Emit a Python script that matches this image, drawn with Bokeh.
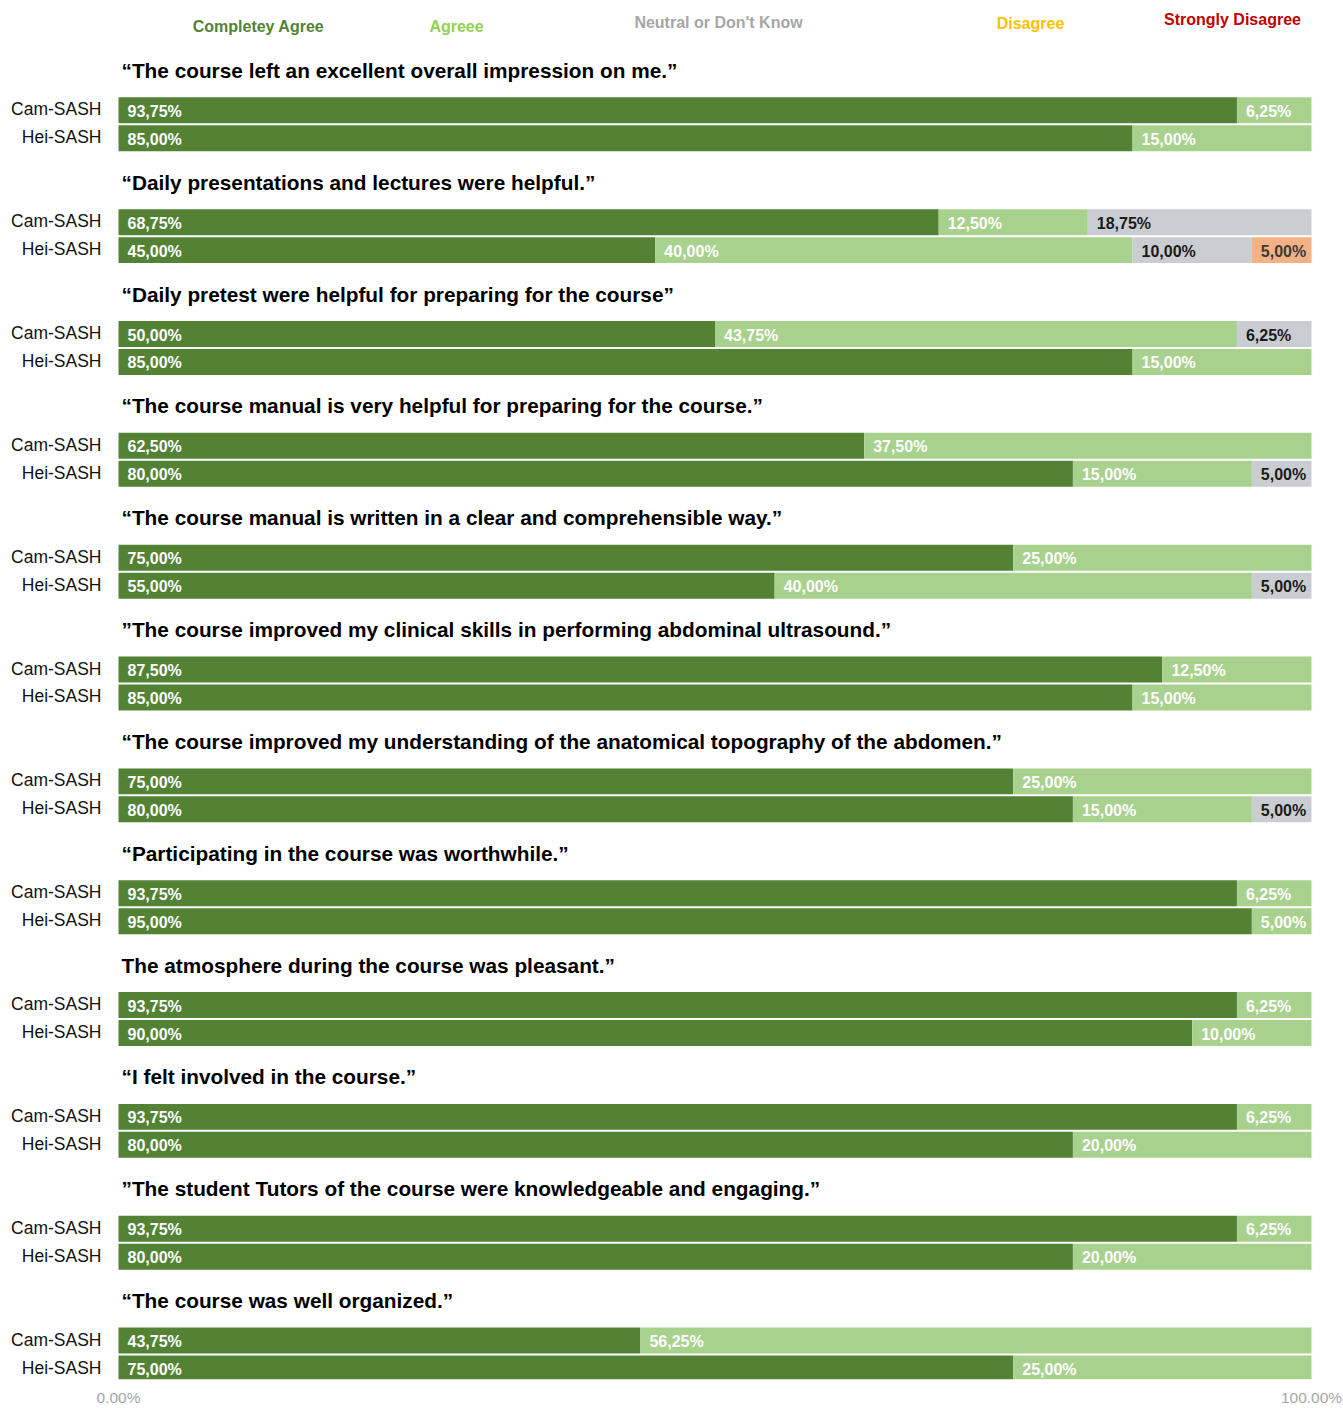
from bokeh.plotting import figure
from bokeh.models import ColumnDataSource, Range1d, FixedTicker
from bokeh.core.properties import value
from bokeh.embed import file_html
from bokeh.resources import INLINE

# ---------------- data ----------------
categories = ["Completey Agree", "Agreee", "Neutral or Don't Know", "Disagree", "Strongly Disagree"]
groups = ["Cam-SASH", "Hei-SASH"]
questions = [
    "\u201cThe course left an excellent overall impression on me.\u201d",
    "\u201cDaily presentations and lectures were helpful.\u201d",
    "\u201cDaily pretest were helpful for preparing for the course\u201d",
    "\u201cThe course manual is very helpful for preparing for the course.\u201d",
    "\u201cThe course manual is written in a clear and comprehensible way.\u201d",
    "\u201dThe course improved my clinical skills in performing abdominal ultrasound.\u201d",
    "\u201cThe course improved my understanding of the anatomical topography of the abdomen.\u201d",
    "\u201cParticipating in the course was worthwhile.\u201d",
    "The atmosphere during the course was pleasant.\u201d",
    "\u201cI felt involved in the course.\u201d",
    "\u201dThe student Tutors of the course were knowledgeable and engaging.\u201d",
    "\u201cThe course was well organized.\u201d",
]
cam_completely = [93.75, 68.75, 50.00, 62.50, 75.00, 87.50, 75.00, 93.75, 93.75, 93.75, 93.75, 43.75]
cam_agree      = [6.25, 12.50, 43.75, 37.50, 25.00, 12.50, 25.00, 6.25, 6.25, 6.25, 6.25, 56.25]
cam_neutral    = [0, 18.75, 6.25, 0, 0, 0, 0, 0, 0, 0, 0, 0]
cam_disagree   = [0, 0, 0, 0, 0, 0, 0, 0, 0, 0, 0, 0]
cam_strongly   = [0, 0, 0, 0, 0, 0, 0, 0, 0, 0, 0, 0]
hei_completely = [85.00, 45.00, 85.00, 80.00, 55.00, 85.00, 80.00, 95.00, 90.00, 80.00, 80.00, 75.00]
hei_agree      = [15.00, 40.00, 15.00, 15.00, 40.00, 15.00, 15.00, 5.00, 10.00, 20.00, 20.00, 25.00]
hei_neutral    = [0, 10.00, 0, 5.00, 5.00, 0, 5.00, 0, 0, 0, 0, 0]
hei_disagree   = [0, 5.00, 0, 0, 0, 0, 0, 0, 0, 0, 0, 0]
hei_strongly   = [0, 0, 0, 0, 0, 0, 0, 0, 0, 0, 0, 0]
axis_ticks = [0, 100]
axis_tick_labels = ["0.00%", "100.00%"]

# ---------------- style / layout ----------------
bar_colors = ["#548235", "#A9D18E", "#C9CDD2", "#F4B183", "#C00000"]
label_colors = ["#FFFFFF", "#FFFFFF", "#1A1A1A", "#3A3A3A", "#FFFFFF"]
legend_colors = ["#548235", "#92D050", "#A6A6A6", "#FFC000", "#C00000"]
legend_px = [258, 456, 718, 1030, 1232]
legend_py = [26, 26, 22, 23, 19]
FONT = "Liberation Sans"

W, H = 1343, 1408
LEFT_PX, RIGHT_PX = 118, 1311
scale = (RIGHT_PX - LEFT_PX) / 100.0
FRAME_H = 1381

block_pitch = 112
title_y0, cam_y0, hei_y0 = 70, 110, 138

p = figure(width=W, height=H, output_backend="svg", toolbar_location=None,
           x_range=Range1d(-LEFT_PX / scale, (W - LEFT_PX) / scale),
           y_range=Range1d(FRAME_H, 0),
           y_axis_location=None, x_axis_location="below",
           min_border_left=0, min_border_right=0, min_border_top=0, min_border_bottom=0)
p.outline_line_color = None
p.grid.visible = False
p.background_fill_color = "white"
p.border_fill_color = "white"

ax = p.xaxis[0]
ax.ticker = FixedTicker(ticks=axis_ticks)
ax.major_label_overrides = {t: l for t, l in zip(axis_ticks, axis_tick_labels)}
ax.axis_line_color = None
ax.major_tick_line_color = None
ax.minor_tick_line_color = None
ax.major_tick_out = 0
ax.major_tick_in = 0
ax.major_label_standoff = 9
ax.major_label_text_font = FONT
ax.major_label_text_font_size = "15.5px"
ax.major_label_text_color = "#A6A6A6"

series = {
    "Cam-SASH": [cam_completely, cam_agree, cam_neutral, cam_disagree, cam_strongly],
    "Hei-SASH": [hei_completely, hei_agree, hei_neutral, hei_disagree, hei_strongly],
}
row_y0 = {"Cam-SASH": cam_y0, "Hei-SASH": hei_y0}

bars = dict(left=[], right=[], y=[], color=[])
labels = dict(x=[], y=[], text=[], color=[])
group_lab = dict(x=[], y=[], text=[])
title_lab = dict(x=[], y=[], text=[])

for i, q in enumerate(questions):
    title_lab["x"].append(0)
    title_lab["y"].append(title_y0 + block_pitch * i)
    title_lab["text"].append(q)
    for g in groups:
        y = row_y0[g] + block_pitch * i
        group_lab["x"].append(0)
        group_lab["y"].append(y)
        group_lab["text"].append(g)
        left = 0.0
        for k, vals in enumerate(series[g]):
            v = vals[i]
            if v > 0:
                bars["left"].append(left)
                bars["right"].append(left + v)
                bars["y"].append(y)
                bars["color"].append(bar_colors[k])
                labels["x"].append(left)
                labels["y"].append(y)
                labels["text"].append(f"{v:.2f}%".replace(".", ","))
                labels["color"].append(label_colors[k])
            left += v

p.hbar(y="y", left="left", right="right", height=26, color="color",
       line_color=None, source=ColumnDataSource(bars))

p.text(x="x", y="y", text="text", text_color="color", source=ColumnDataSource(labels),
       text_font=value(FONT), text_font_style="bold", text_font_size="16px",
       text_align="left", text_baseline="middle", x_offset=9, y_offset=1)

p.text(x="x", y="y", text="text", source=ColumnDataSource(group_lab),
       text_font=value(FONT), text_font_size="17.5px", text_color="#111111",
       text_align="right", text_baseline="middle", x_offset=-17, y_offset=-1)

p.text(x="x", y="y", text="text", source=ColumnDataSource(title_lab),
       text_font=value(FONT), text_font_style="bold", text_font_size="20.8px", text_color="#000000",
       text_align="left", text_baseline="middle", x_offset=3)

leg = dict(x=[(px - LEFT_PX) / scale for px in legend_px], y=legend_py,
           text=categories, color=legend_colors)
p.text(x="x", y="y", text="text", text_color="color", source=ColumnDataSource(leg),
       text_font=value(FONT), text_font_style="bold", text_font_size="16px",
       text_align="center", text_baseline="middle")

open("out.html", "w").write(file_html(p, INLINE))
